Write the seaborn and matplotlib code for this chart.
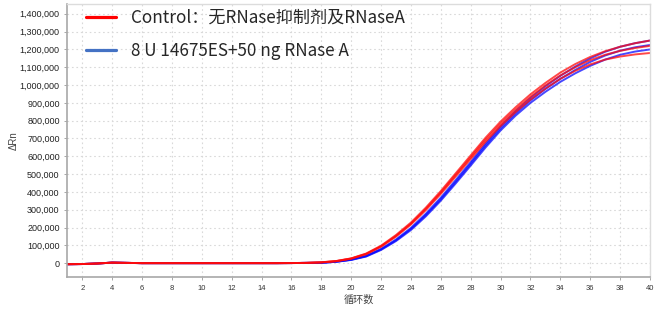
import numpy as np
import pandas as pd
import matplotlib
matplotlib.use("Agg")
import matplotlib.pyplot as plt
from matplotlib.lines import Line2D
import seaborn as sns

cycles = list(range(1, 41))
baseline = [-6000, -5000, -2000, 3000, 1500, 0, 0, 0, 0, 0, 0, 0, 0, 0, 0, 500, 1500]

red_rep1 = baseline + [5000, 12000, 27000, 54000, 98000, 158000, 228000, 312000, 405000, 505000,
                       605000, 705000, 795000, 875000, 948000, 1012000, 1070000, 1118000, 1158000,
                       1190000, 1215000, 1235000, 1250000]
red_rep2 = baseline + [4500, 11500, 26000, 52000, 95000, 153000, 222000, 305000, 397000, 496000,
                       595000, 694000, 783000, 862000, 934000, 998000, 1054000, 1100000, 1140000,
                       1170000, 1192000, 1208000, 1220000]
red_rep3 = baseline + [4000, 11000, 25000, 50000, 92000, 149000, 217000, 298000, 389000, 487000,
                       585000, 682000, 770000, 848000, 918000, 980000, 1035000, 1080000, 1116000,
                       1143000, 1160000, 1172000, 1180000]
blue_rep1 = baseline + [2500, 8500, 20000, 41000, 80000, 133000, 198000, 278000, 368000, 467000,
                        568000, 672000, 768000, 853000, 928000, 993000, 1052000, 1104000, 1150000,
                        1187000, 1215000, 1235000, 1250000]
blue_rep2 = baseline + [2000, 8000, 19000, 39000, 77000, 128000, 192000, 270000, 359000, 457000,
                        558000, 661000, 756000, 840000, 914000, 978000, 1035000, 1085000, 1130000,
                        1166000, 1193000, 1212000, 1225000]
blue_rep3 = baseline + [1500, 7500, 18000, 37000, 74000, 124000, 186000, 263000, 351000, 448000,
                        548000, 650000, 745000, 828000, 900000, 962000, 1018000, 1066000, 1108000,
                        1143000, 1170000, 1188000, 1200000]

label_ctrl = "Control：无RNase抑制剂及RNaseA"
label_test = "8 U 14675ES+50 ng RNase A"
x_ticks = list(range(2, 41, 2))
y_ticks = list(range(0, 1400001, 100000))

rows = []
for grp, reps in [("ctrl", [red_rep1, red_rep2, red_rep3]), ("test", [blue_rep1, blue_rep2, blue_rep3])]:
    for i, vals in enumerate(reps):
        for c, v in zip(cycles, vals):
            rows.append({"cycle": c, "drn": v, "group": grp, "rep": f"{grp}{i}"})
df = pd.DataFrame(rows)

sns.set_style("white")
plt.rcParams['font.family'] = ['Liberation Sans', 'Noto Sans CJK SC', 'DejaVu Sans']

fig = plt.figure(figsize=(6.66, 3.09), dpi=100)
ax = fig.add_axes([0.101, 0.104, 0.875, 0.883])

sns.lineplot(data=df[df.group == "test"], x="cycle", y="drn", units="rep", estimator=None,
             color="#0a0aff", lw=1.4, alpha=0.75, ax=ax, legend=False)
sns.lineplot(data=df[df.group == "ctrl"], x="cycle", y="drn", units="rep", estimator=None,
             color="#ff0a0a", lw=1.4, alpha=0.75, ax=ax, legend=False)

ax.set_xlim(1, 40)
ax.set_ylim(-77000, 1455000)
ax.set_xticks(x_ticks)
ax.set_xticklabels([str(t) for t in x_ticks], fontsize=5.5, color="#333333")
ax.set_yticks(y_ticks)
ax.set_yticklabels([f"{t:,}" for t in y_ticks], fontsize=6.5, color="#222222")
ax.tick_params(axis="both", length=2.5, width=0.6, color="#999999", pad=3)
ax.tick_params(axis="y", direction="out", left=True)
ax.tick_params(axis="x", direction="out", bottom=True)
ax.grid(True, linestyle=(0, (1.5, 2.5)), color="#d9d9d9", linewidth=0.8)
for s in ["left", "bottom"]:
    ax.spines[s].set_color("#a8a8a8")
    ax.spines[s].set_linewidth(1.2)
for s in ["top", "right"]:
    ax.spines[s].set_color("#dcdcdc")
    ax.spines[s].set_linewidth(1.0)

ax.set_xlabel("循环数", fontsize=7.3, color="#444444", family=['Noto Sans CJK SC'], labelpad=2)
ax.set_ylabel("ΔRn", fontsize=7, color="#444444", labelpad=0.5)

handles = [Line2D([0], [0], color="#ff0000", lw=2.3),
           Line2D([0], [0], color="#4472c4", lw=2.3)]
leg = ax.legend(handles, [label_ctrl, label_test], loc="upper left", frameon=False,
                prop={"family": ['Noto Sans CJK SC', 'DejaVu Sans'], "size": 12.3},
                handlelength=1.75, handletextpad=0.9, labelspacing=0.9,
                borderpad=0, borderaxespad=0,
                bbox_to_anchor=(0.032, 0.982))

fig.savefig("out.png", dpi=100)
